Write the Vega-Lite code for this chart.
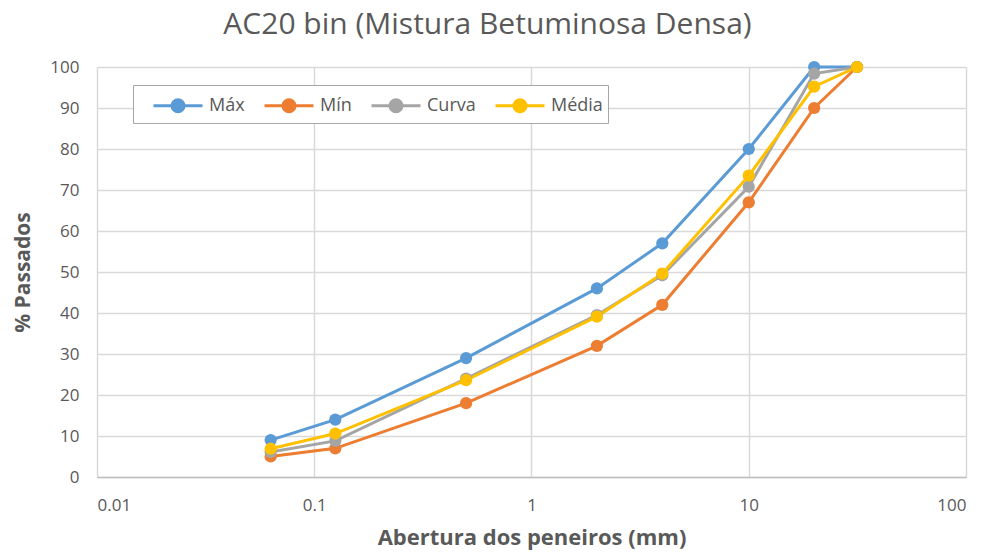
{
  "$schema": "https://vega.github.io/schema/vega-lite/v6.json",
  "width": 869,
  "height": 410,
  "autosize": {"type": "none"},
  "padding": {"left": 97, "top": 67, "right": 20, "bottom": 75},
  "background": "white",
  "title": {
    "text": "AC20 bin (Mistura Betuminosa Densa)",
    "font": "Open Sans",
    "fontSize": 30,
    "fontWeight": "normal",
    "color": "#595959",
    "anchor": "middle",
    "dx": -44,
    "offset": 18
  },
  "data": {
    "values": [
      {"abertura": 0.063, "serie": "Máx", "passados": 9},
      {"abertura": 0.125, "serie": "Máx", "passados": 14},
      {"abertura": 0.5, "serie": "Máx", "passados": 29},
      {"abertura": 2, "serie": "Máx", "passados": 46},
      {"abertura": 4, "serie": "Máx", "passados": 57},
      {"abertura": 10, "serie": "Máx", "passados": 80},
      {"abertura": 20, "serie": "Máx", "passados": 100},
      {"abertura": 31.5, "serie": "Máx", "passados": 100},
      {"abertura": 0.063, "serie": "Mín", "passados": 5},
      {"abertura": 0.125, "serie": "Mín", "passados": 7},
      {"abertura": 0.5, "serie": "Mín", "passados": 18},
      {"abertura": 2, "serie": "Mín", "passados": 32},
      {"abertura": 4, "serie": "Mín", "passados": 42},
      {"abertura": 10, "serie": "Mín", "passados": 67},
      {"abertura": 20, "serie": "Mín", "passados": 90},
      {"abertura": 31.5, "serie": "Mín", "passados": 100},
      {"abertura": 0.063, "serie": "Curva", "passados": 6.1},
      {"abertura": 0.125, "serie": "Curva", "passados": 8.8},
      {"abertura": 0.5, "serie": "Curva", "passados": 24},
      {"abertura": 2, "serie": "Curva", "passados": 39.5},
      {"abertura": 4, "serie": "Curva", "passados": 49.2},
      {"abertura": 10, "serie": "Curva", "passados": 70.8},
      {"abertura": 20, "serie": "Curva", "passados": 98.4},
      {"abertura": 31.5, "serie": "Curva", "passados": 100},
      {"abertura": 0.063, "serie": "Média", "passados": 6.9},
      {"abertura": 0.125, "serie": "Média", "passados": 10.6},
      {"abertura": 0.5, "serie": "Média", "passados": 23.6},
      {"abertura": 2, "serie": "Média", "passados": 39.1},
      {"abertura": 4, "serie": "Média", "passados": 49.6},
      {"abertura": 10, "serie": "Média", "passados": 73.5},
      {"abertura": 20, "serie": "Média", "passados": 95.2},
      {"abertura": 31.5, "serie": "Média", "passados": 100}
    ]
  },
  "mark": {
    "type": "line",
    "strokeWidth": 3,
    "point": {"filled": true, "size": 150, "opacity": 1}
  },
  "encoding": {
    "x": {
      "field": "abertura",
      "type": "quantitative",
      "scale": {"type": "log", "domain": [0.01, 100], "nice": false},
      "axis": {
        "title": "Abertura dos peneiros (mm)",
        "values": [0.01, 0.1, 1, 10, 100],
        "format": "~g",
        "titleFont": "Open Sans",
        "titleFontSize": 22,
        "titleFontWeight": "bold",
        "titleColor": "#595959",
        "titlePadding": 14,
        "labelFont": "Open Sans",
        "labelFontSize": 17,
        "labelColor": "#595959",
        "labelPadding": 20,
        "ticks": false,
        "domain": true,
        "domainColor": "#BFBFBF",
        "domainWidth": 1.5,
        "gridColor": "#D9D9D9",
        "gridWidth": 1.5
      }
    },
    "y": {
      "field": "passados",
      "type": "quantitative",
      "scale": {"domain": [0, 100], "nice": false},
      "axis": {
        "title": "% Passados",
        "values": [0, 10, 20, 30, 40, 50, 60, 70, 80, 90, 100],
        "titleFont": "Open Sans",
        "titleFontSize": 21,
        "titleFontWeight": "bold",
        "titleColor": "#595959",
        "titlePadding": 16,
        "labelFont": "Open Sans",
        "labelFontSize": 17,
        "labelColor": "#595959",
        "labelPadding": 18,
        "ticks": false,
        "domain": false,
        "gridColor": "#D9D9D9",
        "gridWidth": 1.5
      }
    },
    "color": {
      "field": "serie",
      "type": "nominal",
      "sort": ["Máx", "Mín", "Curva", "Média"],
      "scale": {
        "domain": ["Máx", "Mín", "Curva", "Média"],
        "range": ["#5B9BD5", "#ED7D31", "#A5A5A5", "#FFC000"]
      },
      "legend": {
        "title": null,
        "orient": "none",
        "legendX": 36,
        "legendY": 18,
        "direction": "horizontal",
        "columns": 4,
        "strokeColor": "#A6A6A6",
        "padding": 5,
        "fillColor": "white",
        "labelFont": "Open Sans",
        "labelFontSize": 18,
        "labelColor": "#595959",
        "symbolType": "M0,0H3.5M1.32,0A0.43,0.43,0,1,0,2.18,0A0.43,0.43,0,1,0,1.32,0Z",
        "symbolSize": 784,
        "symbolStrokeWidth": 3,
        "symbolOpacity": 1,
        "columnPadding": 4,
        "labelOffset": 40
      }
    },
    "order": {"field": "abertura", "type": "quantitative"}
  },
  "config": {
    "view": {"stroke": null}
  }
}
